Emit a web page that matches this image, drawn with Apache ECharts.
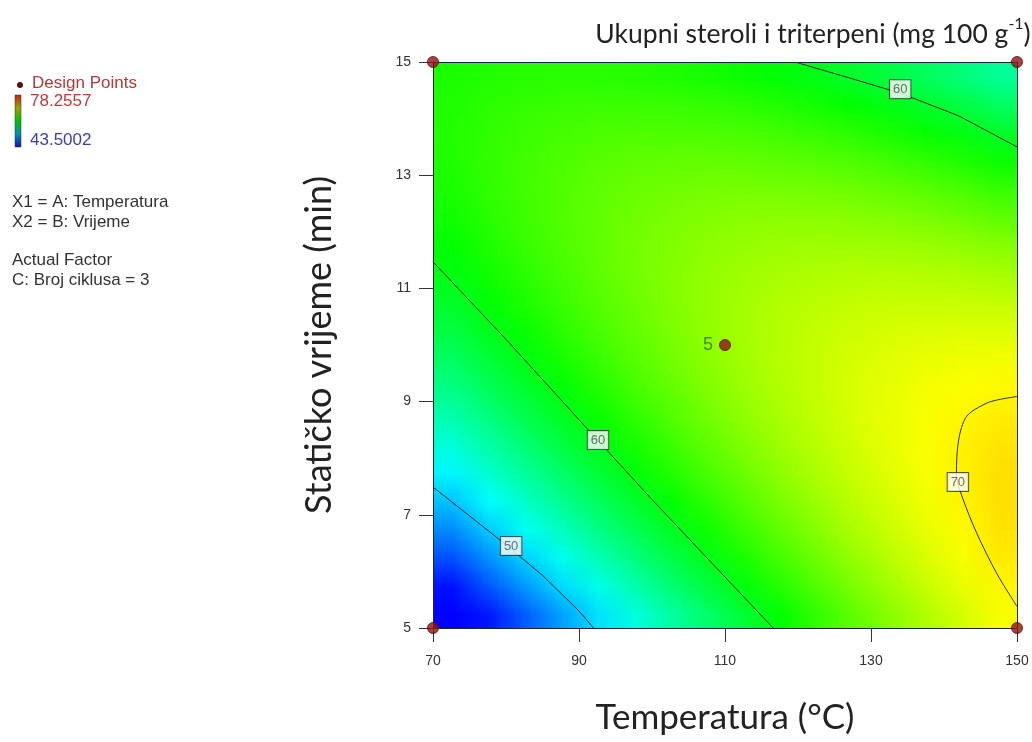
<!DOCTYPE html>
<html><head><meta charset="utf-8">
<script src="https://cdn.jsdelivr.net/npm/echarts@6/dist/echarts.min.js"></script>
<style>
html,body{margin:0;padding:0;background:#fff}
#wrap{position:relative;width:1032px;height:742px;overflow:hidden}
#bg{position:absolute;left:433px;top:62px;width:16px;height:20px;transform-origin:0 0;transform:scale(36.5,28.3)}
#c{position:absolute;left:0;top:0;width:1032px;height:742px}
</style>
</head><body><div id="wrap"><div id="bg"></div><div id="c"></div></div>
<script>
// Cell centres of the response surface (Temperatura °C, Statičko vrijeme min)
const tempCells = [72.5,77.5,82.5,87.5,92.5,97.5,102.5,107.5,112.5,117.5,122.5,127.5,132.5,137.5,142.5,147.5];
const timeCells = [5.25,5.75,6.25,6.75,7.25,7.75,8.25,8.75,9.25,9.75,10.25,10.75,11.25,11.75,12.25,12.75,13.25,13.75,14.25,14.75];
// Estimated surface values (mg 100 g-1), one row per time cell, bottom to top
const surface = [
 [41.76,44.27,46.67,48.98,51.21,53.33,55.35,57.29,59.13,60.87,62.51,64.07,65.52,66.89,68.15,69.32],
 [44.07,46.46,48.75,50.94,53.04,55.04,56.95,58.77,60.49,62.11,63.64,65.08,66.40,67.65,68.80,69.85],
 [46.24,48.51,50.68,52.75,54.75,56.63,58.42,60.12,61.72,63.22,64.63,65.95,67.17,68.30,69.33,70.26],
 [48.27,50.43,52.48,54.43,56.31,58.07,59.74,61.33,62.81,64.20,65.49,66.69,67.79,68.80,69.71,70.53],
 [50.16,52.20,54.13,55.97,57.72,59.37,60.92,62.39,63.75,65.02,66.19,67.28,68.25,69.15,69.94,70.64],
 [51.91,53.83,55.65,57.37,59.00,60.53,61.97,63.32,64.56,65.71,66.77,67.74,68.59,69.37,70.05,70.63],
 [53.53,55.33,57.03,58.63,60.15,61.56,62.88,64.11,65.23,66.26,67.20,68.05,68.79,69.45,70.01,70.47],
 [55.01,56.69,58.27,59.75,61.15,62.44,63.64,64.75,65.77,66.68,67.50,68.23,68.85,69.39,69.83,70.17],
 [56.33,57.89,59.35,60.72,62.00,63.18,64.26,65.25,66.15,66.94,67.64,68.26,68.76,69.19,69.51,69.73],
 [57.53,58.97,60.32,61.56,62.73,63.78,64.75,65.62,66.40,67.07,67.66,68.15,68.54,68.84,69.05,69.15],
 [58.58,59.91,61.13,62.26,63.31,64.25,65.09,65.85,66.51,67.07,67.53,67.91,68.18,68.37,68.45,68.44],
 [59.49,60.70,61.81,62.82,63.74,64.56,65.29,65.93,66.47,66.91,67.26,67.52,67.66,67.73,67.70,67.57],
 [60.26,61.35,62.34,63.23,64.05,64.75,65.36,65.88,66.30,66.62,66.85,66.99,67.03,66.98,66.83,66.58],
 [60.89,61.87,62.74,63.51,64.21,64.79,65.28,65.69,65.99,66.20,66.31,66.33,66.25,66.08,65.81,65.45],
 [61.38,62.24,62.99,63.65,64.22,64.69,65.06,65.35,65.53,65.62,65.61,65.52,65.31,65.03,64.64,64.16],
 [61.73,62.47,63.11,63.65,64.10,64.45,64.71,64.88,64.94,64.91,64.79,64.58,64.25,63.85,63.35,62.75],
 [61.95,62.57,63.09,63.51,63.85,64.08,64.22,64.27,64.21,64.06,63.82,63.49,63.05,62.53,61.91,61.19],
 [62.03,62.53,62.93,63.23,63.45,63.56,63.58,63.51,63.35,63.08,62.72,62.27,61.71,61.07,60.33,59.49],
 [61.95,62.33,62.61,62.80,62.90,62.90,62.80,62.61,62.33,61.94,61.46,60.90,60.22,59.47,58.61,57.65],
 [61.75,62.01,62.18,62.24,62.23,62.10,61.89,61.58,61.18,60.67,60.08,59.39,58.60,57.72,56.75,55.67]
];
const surfaceMin = 43.5002;
const surfaceMax = 78.2557;
// Contour lines: [temperature, time]
const contour50 = [[70,7.49],[75,6.98],[80,6.47],[85,5.93],[90,5.3],[92,5.0]];
const contour60low = [[70,11.47],[80,10.1],[90,8.68],[100,7.27],[110,5.9],[116.6,5.0]];
const contour60high = [[119.6,15],[127,14.72],[134,14.45],[142,14.05],[150,13.5]];
const contour70 = [[150,9.09],[147.7,9.04],[145.8,8.97],[143.1,8.74],[142.0,8.32],[141.7,7.73],[142.4,7.35],[144.5,6.67],[147.2,5.97],[150,5.38]];
const contourLabels = [[80.7,6.45,'50'],[92.6,8.32,'60'],[134,14.52,'60'],[141.9,7.58,'70']];
const designPoints = [[70,5],[70,15],[150,5],[150,15]];
const centerPoint = [110,10];
const centerReplicates = '5';
const xTicks = [70,90,110,130,150];
const yTicks = [5,7,9,11,13,15];

const surfaceColors = ['#0000ff','#00ffff','#00ff00','#ffff00','#ff0000'];

// ---- Surface layer: one pixel per cell, smoothed by the browser when scaled up ----
const cellData = [];
surface.forEach((row, j) => row.forEach((v, i) => cellData.push([i, j, v])));
const bg = echarts.init(document.getElementById('bg'), null, {renderer:'canvas', devicePixelRatio:1, width:16, height:20});
bg.setOption({
  animation:false,
  grid:{left:0, right:0, top:0, bottom:0},
  xAxis:{type:'category', data:tempCells, show:false},
  yAxis:{type:'category', data:timeCells, show:false},
  visualMap:{show:false, type:'continuous', min:surfaceMin, max:surfaceMax, dimension:2,
    inRange:{color:surfaceColors}, outOfRange:{color:['#0000ff']}},
  series:[{
    type:'custom', data:cellData, silent:true,
    renderItem:(params, api) => {
      const p = api.coord([api.value(0), api.value(1)]);
      const s = api.size([1, 1]);
      return {type:'rect', shape:{x:p[0]-s[0]/2, y:p[1]-s[1]/2, width:s[0], height:s[1]},
              style:{fill:api.visual('color')}};
    }
  }]
});

// ---- Main chart ----
const G = {left:433, top:62, width:584, height:566};
const tickFont = {color:'#333', fontSize:14, fontFamily:'Liberation Sans'};
const nameFont = {color:'#222', fontSize:35, fontFamily:'Lato', fontWeight:'normal'};
const legendFont = '17px "Liberation Sans"';
const chart = echarts.init(document.getElementById('c'));
chart.setOption({
  animation:false,
  title:{
    text:'{a|Ukupni steroli i triterpeni (mg 100 g}{s|-1}{a|)}',
    left:808, top:11, textAlign:'center',
    textStyle:{fontWeight:'normal', rich:{
      a:{fontSize:26.5, fontFamily:'Lato', color:'#222', fontWeight:'normal', lineHeight:36},
      s:{fontSize:16, fontFamily:'Lato', color:'#222', fontWeight:'normal', verticalAlign:'top', lineHeight:36, padding:[0,0,12,0]}
    }}
  },
  grid:G,
  xAxis:[
    {type:'value', min:70, max:150, interval:20, position:'bottom', z:3,
     axisLine:{show:true, lineStyle:{color:'#1c2340', width:1}},
     axisTick:{show:true, length:14, lineStyle:{color:'#333'}},
     axisLabel:{...tickFont, margin:26},
     splitLine:{show:false},
     name:'Temperatura (°C)', nameLocation:'middle', nameGap:72, nameTextStyle:nameFont},
    {type:'value', min:70, max:150, position:'top', z:3,
     axisLine:{show:true, lineStyle:{color:'#1c2340', width:1}},
     axisTick:{show:false}, axisLabel:{show:false}, splitLine:{show:false}}
  ],
  yAxis:[
    {type:'value', min:5, max:15, interval:2, position:'left', z:3,
     axisLine:{show:true, lineStyle:{color:'#1c2340', width:1}},
     axisTick:{show:true, length:14, lineStyle:{color:'#333'}},
     axisLabel:{...tickFont, margin:22},
     splitLine:{show:false},
     name:'Statičko vrijeme (min)', nameLocation:'middle', nameGap:96, nameRotate:90,
     nameTextStyle:{...nameFont, fontSize:36}},
    {type:'value', min:5, max:15, position:'right', z:3,
     axisLine:{show:true, lineStyle:{color:'#1c2340', width:1}},
     axisTick:{show:false}, axisLabel:{show:false}, splitLine:{show:false}}
  ],
  series:[
    ...[contour50, contour60low, contour60high].map(d => ({
      type:'line', data:d, symbol:'none', z:4, lineStyle:{color:'#2b2b2b', width:1}
    })),
    {type:'line', data:contour70, symbol:'none', z:4, smooth:0.3, lineStyle:{color:'#2b2b2b', width:1}},
    {type:'scatter', data:contourLabels, symbolSize:1, z:5,
     itemStyle:{color:'rgba(0,0,0,0)'},
     label:{show:true, position:'inside', formatter:p => p.value[2], color:'#4a4a4a', fontSize:13, fontFamily:'Liberation Sans',
       backgroundColor:'#fff', borderColor:'#333', borderWidth:1, padding:[3,3,2,3]}},
    {type:'scatter', clip:false, z:6, symbolSize:11,
     itemStyle:{color:'#8e1414', borderColor:'#5a0808', borderWidth:1},
     data:[...designPoints, {value:centerPoint, label:{show:true, position:'left', distance:6, formatter:centerReplicates,
        color:'#2f6e22', fontSize:18, fontFamily:'Liberation Sans'}}]}
  ],
  graphic:[
    {type:'circle', shape:{cx:20, cy:85, r:3}, style:{fill:'#5a1010'}},
    {type:'text', x:32, y:83, style:{text:'Design Points', fill:'#b03a3a', font:legendFont, verticalAlign:'middle'}},
    {type:'rect', shape:{x:15, y:95, width:6, height:52},
     style:{fill:new echarts.graphic.LinearGradient(0,0,0,1,[
       {offset:0, color:'#c02010'},{offset:0.25, color:'#a0a000'},{offset:0.5, color:'#00c000'},
       {offset:0.75, color:'#0090b0'},{offset:1, color:'#1010b0'}]), stroke:'#333', lineWidth:0.5}},
    {type:'text', x:30, y:101, style:{text:'78.2557', fill:'#c03a3a', font:legendFont, verticalAlign:'middle'}},
    {type:'text', x:30, y:140, style:{text:'43.5002', fill:'#3a40b0', font:legendFont, verticalAlign:'middle'}},
    {type:'text', x:12, y:202, style:{text:'X1 = A: Temperatura', fill:'#333', font:legendFont, verticalAlign:'middle'}},
    {type:'text', x:12, y:222, style:{text:'X2 = B: Vrijeme', fill:'#333', font:legendFont, verticalAlign:'middle'}},
    {type:'text', x:12, y:260, style:{text:'Actual Factor', fill:'#333', font:legendFont, verticalAlign:'middle'}},
    {type:'text', x:12, y:280, style:{text:'C: Broj ciklusa = 3', fill:'#333', font:legendFont, verticalAlign:'middle'}}
  ]
});
</script></body></html>
